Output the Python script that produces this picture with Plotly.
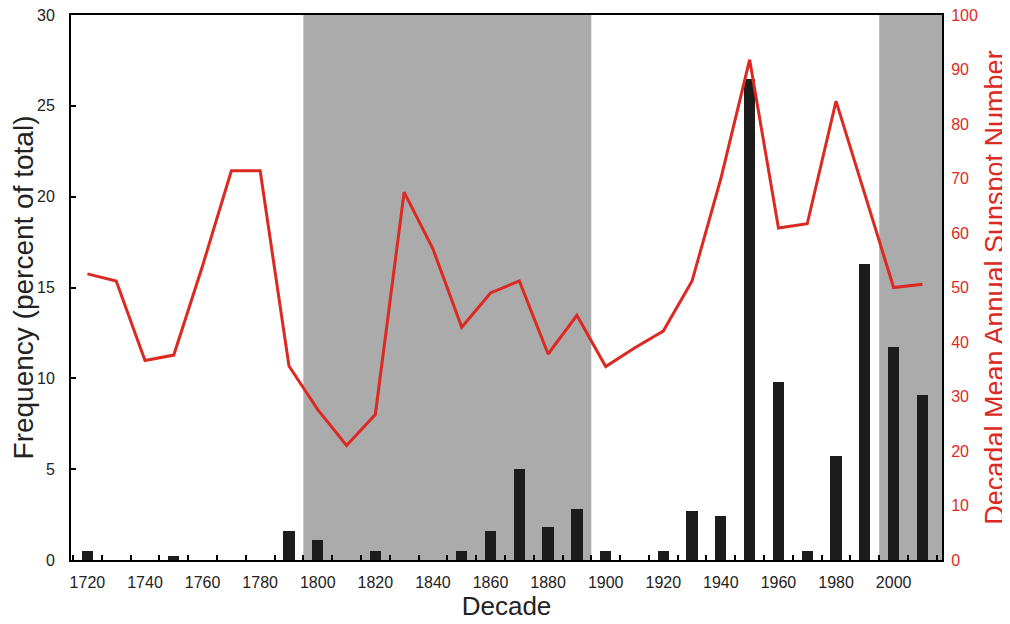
import plotly.graph_objects as go

decades = [1720, 1730, 1740, 1750, 1760, 1770, 1780, 1790, 1800, 1810,
           1820, 1830, 1840, 1850, 1860, 1870, 1880, 1890, 1900, 1910,
           1920, 1930, 1940, 1950, 1960, 1970, 1980, 1990, 2000, 2010]
frequency = [0.5, 0, 0, 0.2, 0, 0, 0, 1.6, 1.1, 0,
             0.5, 0, 0, 0.5, 1.6, 5.0, 1.8, 2.8, 0.5, 0,
             0.5, 2.7, 2.4, 26.5, 9.8, 0.5, 5.7, 16.3, 11.7, 9.1]
sunspots = [52.5, 51.2, 36.6, 37.6, 54.0, 71.4, 71.4, 35.6, 27.6, 21.0,
            26.7, 67.5, 57.1, 42.7, 49.0, 51.2, 37.8, 44.9, 35.5, 38.9,
            42.0, 51.2, 70.0, 91.8, 60.9, 61.7, 84.2, 67.0, 50.0, 50.6]
shaded_periods = [(1795, 1895), (1995, 2017)]
x_label_ticks = list(range(1720, 2001, 20))
left_ticks = [0, 5, 10, 15, 20, 25, 30]
right_ticks = list(range(0, 101, 10))

RED = "#dc2a22"
INK = "#222222"
FONT = "Liberation Sans, Arial, sans-serif"

fig = go.Figure()
fig.add_trace(go.Bar(x=decades, y=frequency, width=3.9,
                     marker=dict(color="#1c1c1c", line=dict(width=0)),
                     yaxis="y", showlegend=False))
fig.add_trace(go.Scatter(x=decades, y=sunspots, mode="lines",
                         line=dict(color=RED, width=3),
                         yaxis="y2", showlegend=False))

shapes = []
for a, b in shaded_periods:
    shapes.append(dict(type="rect", xref="x", yref="paper", x0=a, x1=b,
                       y0=0, y1=1, fillcolor="#ababab", line=dict(width=0),
                       layer="below"))

# page body has an 8px default margin, so the figure is a bit smaller
fig.update_layout(
    width=1002, height=616,
    margin=dict(l=63, r=68, t=7, b=64, autoexpand=False),
    paper_bgcolor="white", plot_bgcolor="white",
    font=dict(family=FONT, color=INK),
    shapes=shapes,
    bargap=0,
    xaxis=dict(range=[1714.3, 2016.8], tickvals=x_label_ticks,
               ticks="", showgrid=False, zeroline=False, automargin=False,
               showline=True, linecolor="black", linewidth=2, mirror=True,
               tickfont=dict(size=16, color=INK), ticklabelstandoff=7,
               ticklabeloverflow="allow",
               minor=dict(tick0=1725, dtick=10, ticks="inside", ticklen=5,
                          tickwidth=2, tickcolor="black", showgrid=False),
               title=dict(text="Decade", font=dict(size=26, color=INK),
                          standoff=7)),
    yaxis=dict(range=[0, 30], tickvals=left_ticks, ticks="inside",
               ticklen=5, tickwidth=2, tickcolor="black",
               showgrid=False, zeroline=False, automargin=False,
               showline=True, linecolor="black", linewidth=2,
               tickfont=dict(size=16, color=INK), ticklabelstandoff=11,
               ticklabeloverflow="allow",
               title=dict(text="Frequency (percent of total)",
                          font=dict(size=28, color=INK), standoff=10)),
    yaxis2=dict(range=[0, 100], tickvals=right_ticks, overlaying="y",
                side="right", ticks="", showgrid=False, zeroline=False,
                automargin=False, ticklabeloverflow="allow",
                showline=True, linecolor="black", linewidth=2,
                tickfont=dict(size=16, color=RED), ticklabelstandoff=4,
                title=dict(text="Decadal Mean Annual Sunspot Number",
                           font=dict(size=27, color=RED), standoff=8)),
)

fig.write_html("out.html")
